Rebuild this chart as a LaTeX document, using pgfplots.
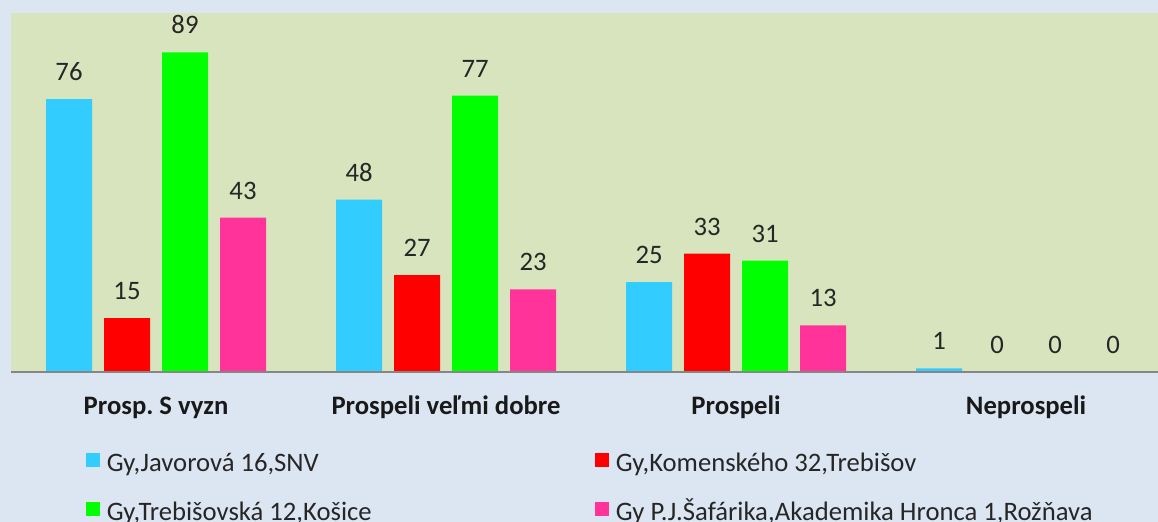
\documentclass[border=0pt]{standalone}
\usepackage{fontspec}
\setmainfont{Carlito}
\usepackage{pgfplots}
\pgfplotsset{compat=1.18}
\frenchspacing
\definecolor{outerbg}{HTML}{DCE6F2}
\definecolor{plotbg}{HTML}{D7E4BD}
\definecolor{axisgray}{HTML}{868686}
\definecolor{cyanbar}{HTML}{33CCFF}
\definecolor{redbar}{HTML}{FF0000}
\definecolor{greenbar}{HTML}{00FF00}
\definecolor{pinkbar}{HTML}{FF3399}
\newcommand{\cf}{\fontsize{26.67bp}{32bp}\selectfont}
\begin{document}
\begin{tikzpicture}
\fill[outerbg] (0bp,0bp) rectangle (1158bp,522bp);
\useasboundingbox (0bp,0bp) rectangle (1158bp,522bp);
\begin{axis}[
  at={(11bp,150bp)}, anchor=south west,
  scale only axis, width=1147bp, height=359bp,
  xmin=-0.5, xmax=3.455, ymin=0, ymax=100,
  axis background/.style={fill=plotbg},
  axis on top,
  axis x line*=bottom, axis y line=none,
  x axis line style={draw=axisgray, line width=1.5bp, -},
  ytick=\empty,
  xtick={0,1,2,3},
  xticklabels={Prosp.\ S vyzn, Prospeli veľmi dobre, Prospeli, Neprospeli},
  major tick length=0pt,
  x tick label style={anchor=base, yshift=-42bp, font=\cf\bfseries, text=black!90},
  /pgf/number format/assume math mode=true,
  ybar, bar width=46bp,
  nodes near coords,
  every node near coord/.append style={anchor=base, inner sep=0pt, yshift=18.5bp, font=\cf, text=black!85},
  clip=false,
  legend columns=2,
  legend style={draw=none, fill=none, inner sep=0pt, outer sep=0pt,
    at={(0,0)}, anchor=north west, xshift=75bp, yshift=-79bp,
    font=\cf, text=black!85, row sep=22bp, column sep=0pt,
    nodes={inner sep=0pt, text height=20bp, text depth=7bp},
    /tikz/every odd column/.append style={column sep=7bp}},
]
\addplot[fill=cyanbar, draw=none, bar shift=-87bp,
  legend image code/.code={\fill[cyanbar] (0bp,-2bp) rectangle (14bp,12bp);}]
  coordinates {(0,76) (1,48) (2,25) (3,1)};
\addlegendentry{\makebox[488bp][l]{Gy,Javorová 16,SNV}}
\addplot[fill=redbar, draw=none, bar shift=-29bp,
  legend image code/.code={\fill[redbar] (0bp,-2bp) rectangle (14bp,12bp);}]
  coordinates {(0,15) (1,27) (2,33) (3,0)};
\addlegendentry{\makebox[488bp][l]{Gy,Komenského 32,Trebišov}}
\addplot[fill=greenbar, draw=none, bar shift=29bp,
  legend image code/.code={\fill[greenbar] (0bp,-2bp) rectangle (14bp,12bp);}]
  coordinates {(0,89) (1,77) (2,31) (3,0)};
\addlegendentry{\makebox[488bp][l]{Gy,Trebišovská 12,Košice}}
\addplot[fill=pinkbar, draw=none, bar shift=87bp,
  legend image code/.code={\fill[pinkbar] (0bp,-2bp) rectangle (14bp,12bp);}]
  coordinates {(0,43) (1,23) (2,13) (3,0)};
\addlegendentry{\makebox[488bp][l]{Gy P.J.Šafárika,Akademika Hronca 1,Rožňava}}
\end{axis}
\end{tikzpicture}
\end{document}
